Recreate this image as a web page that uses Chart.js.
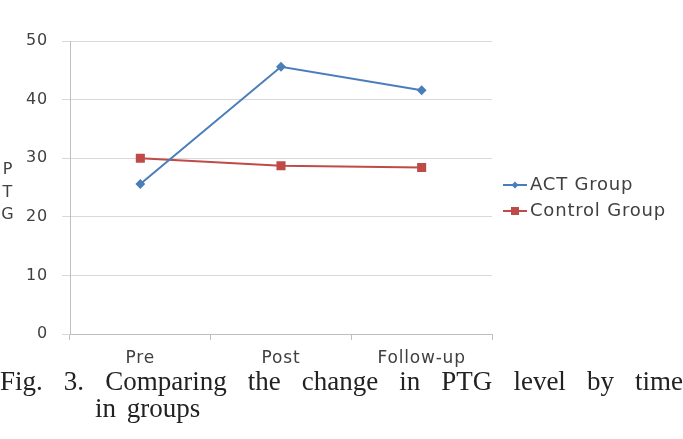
<!DOCTYPE html>
<html>
<head>
<meta charset="utf-8">
<script src="https://cdn.jsdelivr.net/npm/chart.js@4/dist/chart.umd.min.js"></script>
<style>
  body { margin: 0; background: #fff; width: 683px; height: 439px; overflow: hidden; position: relative; }
  #wrap { position: absolute; left: 0; top: 0; width: 683px; height: 370px; }
  #ytitle { position: absolute; left: 0px; top: 158px; font: 16px "DejaVu Sans", sans-serif; color: #404040; line-height: 22.5px; text-align: center; width: 15px; }
  #caption { position: absolute; left: 0; top: 368px; width: 683px; font: 27px "Liberation Serif", "DejaVu Serif", serif; color: #222; line-height: 27px; }
  #caption .l1 { text-align: justify; text-align-last: justify; }
  #caption .l2 { padding-left: 95px; word-spacing: 4px; }
</style>
</head>
<body>
<div id="wrap"><canvas id="chart" width="683" height="370"></canvas></div>
<div id="ytitle">P<br>T<br>G</div>
<div id="caption">
  <div class="l1">Fig. 3. Comparing the change in PTG level by time</div>
  <div class="l2">in groups</div>
</div>
<script>
const timePoints = ['Pre', 'Post', 'Follow-up'];
const actValues = [25.6, 45.6, 41.6];
const controlValues = [30.0, 28.7, 28.4];
const seriesNames = ['ACT Group', 'Control Group'];
const yTicks = [0, 10, 20, 30, 40, 50];

const blue = '#4a7ebb';
const red = '#be4b48';
const textColor = '#404040';

// a little extra tracking, the original font is wide
const wideText = {
  id: 'wideText',
  beforeDraw(chart) {
    chart.ctx.letterSpacing = '0.8px';
  }
};

// excel-like legend: short line with the marker in the middle
const sideLegend = {
  id: 'sideLegend',
  afterDraw(chart) {
    const ctx = chart.ctx;
    ctx.save();
    chart.data.datasets.forEach((ds, i) => {
      const y = 185 + i * 26;
      const x0 = 503, x1 = 527;
      ctx.strokeStyle = ds.borderColor;
      ctx.lineWidth = 2;
      ctx.beginPath();
      ctx.moveTo(x0, y);
      ctx.lineTo(x1, y);
      ctx.stroke();
      ctx.fillStyle = ds.borderColor;
      const mx = (x0 + x1) / 2;
      if (ds.pointStyle === 'rectRot') {
        ctx.beginPath();
        ctx.moveTo(mx, y - 3.5);
        ctx.lineTo(mx + 3.5, y);
        ctx.lineTo(mx, y + 3.5);
        ctx.lineTo(mx - 3.5, y);
        ctx.closePath();
        ctx.fill();
      } else {
        ctx.fillRect(mx - 4, y - 4, 8, 8);
      }
      ctx.fillStyle = textColor;
      ctx.font = '18px "DejaVu Sans", sans-serif';
      ctx.letterSpacing = '0.8px';
      ctx.textBaseline = 'middle';
      ctx.fillText(ds.label, 530, y);
    });
    ctx.restore();
  }
};

new Chart(document.getElementById('chart'), {
  type: 'line',
  data: {
    labels: timePoints,
    datasets: [
      {
        label: seriesNames[0],
        data: actValues,
        borderColor: blue,
        backgroundColor: blue,
        borderWidth: 2,
        pointStyle: 'rectRot',
        pointRadius: 3.5,
        tension: 0
      },
      {
        label: seriesNames[1],
        data: controlValues,
        borderColor: red,
        backgroundColor: red,
        borderWidth: 2,
        pointStyle: 'rect',
        pointRadius: 5,
        tension: 0
      }
    ]
  },
  options: {
    responsive: false,
    animation: false,
    layout: { padding: { top: 41, right: 191, left: 0, bottom: 0 } },
    plugins: {
      legend: { display: false },
      tooltip: { enabled: false }
    },
    scales: {
      x: {
        offset: true,
        grid: { offset: true, drawOnChartArea: false, tickLength: 6, color: '#bfbfbf' },
        border: { color: '#bfbfbf' },
        ticks: { color: textColor, font: { family: 'DejaVu Sans', size: 17 }, padding: 8 },
        afterFit: (scale) => { scale.height = 36; }
      },
      y: {
        min: 0,
        max: 50,
        afterBuildTicks: (scale) => { scale.ticks = yTicks.map(v => ({ value: v })); },
        grid: { color: '#d9d9d9', tickLength: 8 },
        border: { color: '#bfbfbf' },
        ticks: { color: textColor, font: { family: 'DejaVu Sans', size: 16 }, padding: 14 },
        afterFit: (scale) => { scale.width = 70; }
      }
    }
  },
  plugins: [wideText, sideLegend]
});
</script>
</body>
</html>
